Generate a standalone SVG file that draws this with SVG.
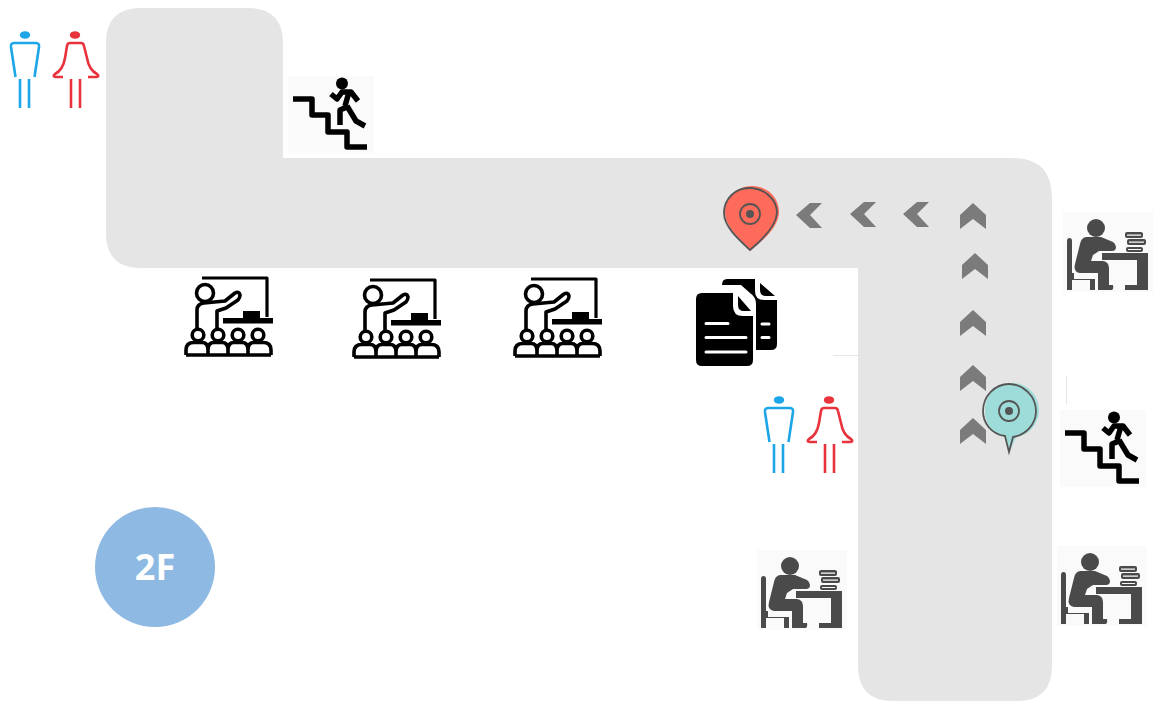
<svg xmlns="http://www.w3.org/2000/svg" xmlns:xlink="http://www.w3.org/1999/xlink" width="1174" height="713" viewBox="0 0 1174 713">
<style>
.hall{fill:#e5e5e5}
.bg{fill:#fafafa}
.blue{stroke:#1ca6e8;stroke-width:2.6;fill:none;stroke-linejoin:round}
.red{stroke:#e8333c;stroke-width:2.6;fill:none;stroke-linejoin:round}
.blk{fill:none;stroke:#000;stroke-linejoin:round}
.chev{fill:#7b7b7b}
.desk{fill:#4a4a4a}
.pinl{fill:none;stroke:#555;stroke-width:1.800}
.label{font-family:"Open Sans","Liberation Sans",sans-serif;font-weight:700;font-size:36px;fill:#fff}
</style>
<defs>
<g id="wc">
<ellipse cx="25" cy="35" rx="5.200" ry="3.800" fill="#1ca6e8"/>
<path class="blue" d="M15.500 77L11 47Q10.500 43 14 43H36Q39.500 43 39 47L34.500 77M20 79V108M29 79V108"/>
<ellipse cx="75" cy="35" rx="5.200" ry="3.800" fill="#e8333c"/>
<path class="red" d="M63 77H56Q52 76.500 55 74Q63 70 65 58L67 46Q67.500 43 70 43H81Q83.500 43 84 46L87 58Q89 70 97 74Q100 76.500 96 77H88M71 79V108M80 79V108"/>
</g>
<g id="stairs">
<rect class="bg" x="288" y="76" width="86" height="77"/>
<path class="blk" stroke-width="5.500" stroke-linejoin="miter" d="M293 99H312V115H328V132H347V147H367"/>
<circle cx="342" cy="83.500" r="6"/>
<path class="blk" stroke-width="5.500" d="M331 94L337 99L342 92H351L358 101M349 92L345 106M347 107L340 110V125M347 106L356 121L365 126"/>
</g>
<g id="class">
<path class="blk" stroke-width="3.200" d="M202 278H267V317"/>
<rect x="223" y="318" width="50" height="5.500"/>
<rect x="243" y="311" width="17" height="7"/>
<circle class="blk" stroke-width="3.600" cx="205" cy="293" r="8.500"/>
<path class="blk" stroke-width="3.600" d="M197 329V310Q197 304 204 303L225 301L235 293Q239 291 240 295Q240 298 238 300L226 308L217 311V329"/>
<g class="blk" stroke-width="3.600">
<circle cx="198" cy="335" r="5.800"/><circle cx="218" cy="335" r="5.800"/><circle cx="238" cy="335" r="5.800"/><circle cx="258" cy="335" r="5.800"/>
<path d="M186 355V350Q186 342.500 194 342.500H202Q208 342.500 208 350V355M208 350Q208 342.500 214 342.500H222Q228 342.500 228 350V355M228 350Q228 342.500 234 342.500H242Q248 342.500 248 350V355M248 350Q248 342.500 254 342.500H263Q271 342.500 271 350V355M186 355H271"/>
</g>
</g>
<g id="deskman" class="desk">
<rect class="bg" x="1063" y="212" width="90" height="80"/>
<circle cx="1096" cy="228" r="9"/>
<path d="M1067 241Q1067 238 1069.500 238Q1072 238 1072 241V273H1095V290H1090V280H1072V290H1067Z"/>
<path class="bg" d="M1074 272H1100V279H1074Z"/>
<path d="M1086 237H1101L1113 242Q1116 244 1116 247Q1116 251 1112 251H1099L1093 255L1091 261H1103Q1109 262 1109 268V285H1113Q1114 290 1111 290H1098V273H1080Q1073 272 1075 264L1080 244Q1081 238 1086 237Z"/>
<path d="M1102 253H1148V290H1125V285H1137V260H1102Z"/>
<rect x="1125" y="232" width="18" height="6" rx="2"/>
<rect x="1127" y="239" width="19" height="6" rx="2"/>
<rect x="1126" y="247" width="17" height="5" rx="2"/>
<path class="bg" d="M1127 234.500H1141V235.700H1127ZM1129 241.500H1144V242.700H1129ZM1128 249H1141V250H1128Z"/>
</g>
<path id="up" class="chev" d="M0 -13L13 -1V13L0 3L-13 13V-1Z"/>
<path id="left" class="chev" d="M-13 0L1 -12H13L1 0L13 13H1Z"/>
</defs>

<g id="corridor"><path class="hall" d="M141 8H248Q283 8 283 43V158H1012Q1052 158 1052 198V666Q1052 701 1017 701H893Q858 701 858 666V268H141Q106 268 106 233V43Q106 8 141 8Z"/></g>

<g id="connectors">
<use xlink:href="#left" href="#left" x="809" y="215"/>
<use xlink:href="#left" href="#left" x="863" y="214"/>
<use xlink:href="#left" href="#left" x="916" y="214"/>
<use xlink:href="#up" href="#up" x="973" y="216"/>
<use xlink:href="#up" href="#up" x="975" y="266"/>
<use xlink:href="#up" href="#up" x="973" y="323"/>
<use xlink:href="#up" href="#up" x="973" y="378"/>
<use xlink:href="#up" href="#up" x="973" y="431"/>
<path d="M833 355.500H858M1066.500 376V404" stroke="#e6e6e6" stroke-width="1" fill="none"/>
</g>

<g id="restroom-1"><use xlink:href="#wc" href="#wc"/></g>
<g id="restroom-2"><use xlink:href="#wc" href="#wc" x="754" y="365"/></g>
<g id="stairs-1"><use xlink:href="#stairs" href="#stairs"/></g>
<g id="stairs-2"><use xlink:href="#stairs" href="#stairs" x="772" y="334"/></g>
<g id="classroom-1"><use xlink:href="#class" href="#class"/></g>
<g id="classroom-2"><use xlink:href="#class" href="#class" x="168" y="2"/></g>
<g id="classroom-3"><use xlink:href="#class" href="#class" x="329" y="1"/></g>

<g id="documents">
<path d="M727 279H755V291Q755 300 764 300H777V344Q777 350 771 350H756V304Q756 297 750 293L741 285H722Q722 279 727 279Z"/>
<path d="M760 283L775 296H766Q760 296 760 290Z"/>
<path d="M702 293H733V306Q733 316 743 316H753V360Q753 366 747 366H702Q696 366 696 360V299Q696 293 702 293Z"/>
<path d="M738 296L751 311H744Q738 311 738 305Z"/>
<g stroke="#fff" stroke-width="3" stroke-linecap="round"><path d="M706 323.500H728M706 337.500H746M706 352H746M762 324H769M762 337.500H769"/></g>
</g>

<g id="pin-red">
<path d="M752 186C768 186 779 198 779 212C779 226 764 240 751 250C738 238 725 226 725 212C725 198 737 186 752 186Z" fill="#fe6b5b"/>
<path d="M749 188C735 188 724 199 724 213C724 226 737 238 750 250C762 240 776 226 777 213C777 199 764 188 749 188Z" class="pinl"/>
<circle class="pinl" cx="750" cy="214" r="10"/>
<circle cx="750" cy="214" r="4" fill="#555"/>
</g>

<g id="pin-teal">
<path d="M1012 383C1027 383 1039 395 1039 410C1039 424 1028 436 1016 437L1010 451L1005 436C991 434 985 423 985 410C985 395 997 383 1012 383Z" fill="#9edcd9"/>
<path class="pinl" d="M1005 436C991 434 983 423 983 411C983 396 995 384 1009 384C1023 384 1036 396 1036 411C1036 424 1026 435 1013 437L1009 452Z"/>
<circle class="pinl" cx="1009" cy="411" r="10"/>
<circle cx="1009" cy="411" r="4" fill="#555"/>
</g>

<g id="desk-1"><use xlink:href="#deskman" href="#deskman"/></g>
<g id="desk-2"><use xlink:href="#deskman" href="#deskman" x="-306" y="338"/></g>
<g id="desk-3"><use xlink:href="#deskman" href="#deskman" x="-6" y="334"/></g>

<g id="floor"><circle cx="155" cy="567" r="60" fill="#8db9e3"/><text class="label" x="155" y="580" text-anchor="middle">2F</text></g>
</svg>
